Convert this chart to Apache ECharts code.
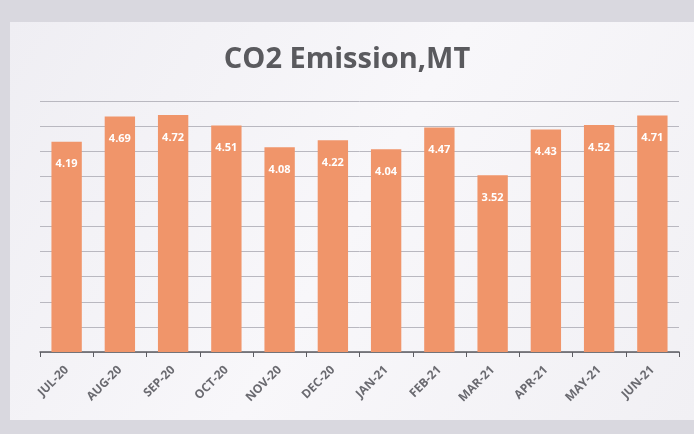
<!DOCTYPE html>
<html>
<head>
<meta charset="utf-8">
<script src="https://cdn.jsdelivr.net/npm/echarts@6/dist/echarts.min.js"></script>
<style>
  html, body { margin: 0; padding: 0; background: #d9d8df; }
  #chart { width: 694px; height: 434px; }
</style>
</head>
<body>
<div id="chart"></div>
<script>
// Monthly CO2 emission, MT
const months = ['JUL-20', 'AUG-20', 'SEP-20', 'OCT-20', 'NOV-20', 'DEC-20',
                'JAN-21', 'FEB-21', 'MAR-21', 'APR-21', 'MAY-21', 'JUN-21'];
const emissions = [4.19, 4.69, 4.72, 4.51, 4.08, 4.22, 4.04, 4.47, 3.52, 4.43, 4.52, 4.71];
const yTicks = { min: 0, max: 5, interval: 0.5 };

const chart = echarts.init(document.getElementById('chart'));
chart.setOption({
  backgroundColor: '#d9d8df',
  graphic: [{
    type: 'rect',
    z: -10,
    shape: { x: 10, y: 22, width: 684, height: 398 },
    style: {
      fill: new echarts.graphic.LinearGradient(0, 0, 1, 1, [
        { offset: 0, color: '#efeef3' },
        { offset: 0.5, color: '#f8f7fa' },
        { offset: 1, color: '#f1f0f4' }
      ])
    }
  }],
  title: {
    text: 'CO2 Emission,MT',
    left: 'center',
    top: 40,
    textStyle: {
      fontFamily: 'Open Sans',
      fontSize: 29,
      fontWeight: 'bold',
      color: '#5a5a5e'
    }
  },
  grid: { left: 40, right: 15, top: 101, bottom: 82 },
  xAxis: {
    type: 'category',
    data: months,
    axisLine: { lineStyle: { color: '#5c5c62', width: 1.5 } },
    axisTick: { show: true, alignWithLabel: false, length: 5, lineStyle: { color: '#5c5c62' } },
    axisLabel: {
      rotate: 45,
      color: '#6a6a70',
      fontFamily: 'Open Sans',
      fontWeight: 'bold',
      fontSize: 12,
      margin: 16
    }
  },
  yAxis: {
    type: 'value',
    min: yTicks.min,
    max: yTicks.max,
    interval: yTicks.interval,
    axisLabel: { show: false },
    axisLine: { show: false },
    axisTick: { show: false },
    splitLine: { lineStyle: { color: '#b9b8c0', width: 1 } }
  },
  series: [{
    type: 'bar',
    data: emissions,
    barWidth: '57%',
    itemStyle: { color: '#f0956a' },
    label: {
      show: true,
      position: 'insideTop',
      distance: 17,
      color: '#ffffff',
      fontFamily: 'Open Sans',
      fontWeight: 'bold',
      fontSize: 11,
      formatter: p => p.value.toFixed(2)
    }
  }]
});
</script>
</body>
</html>
